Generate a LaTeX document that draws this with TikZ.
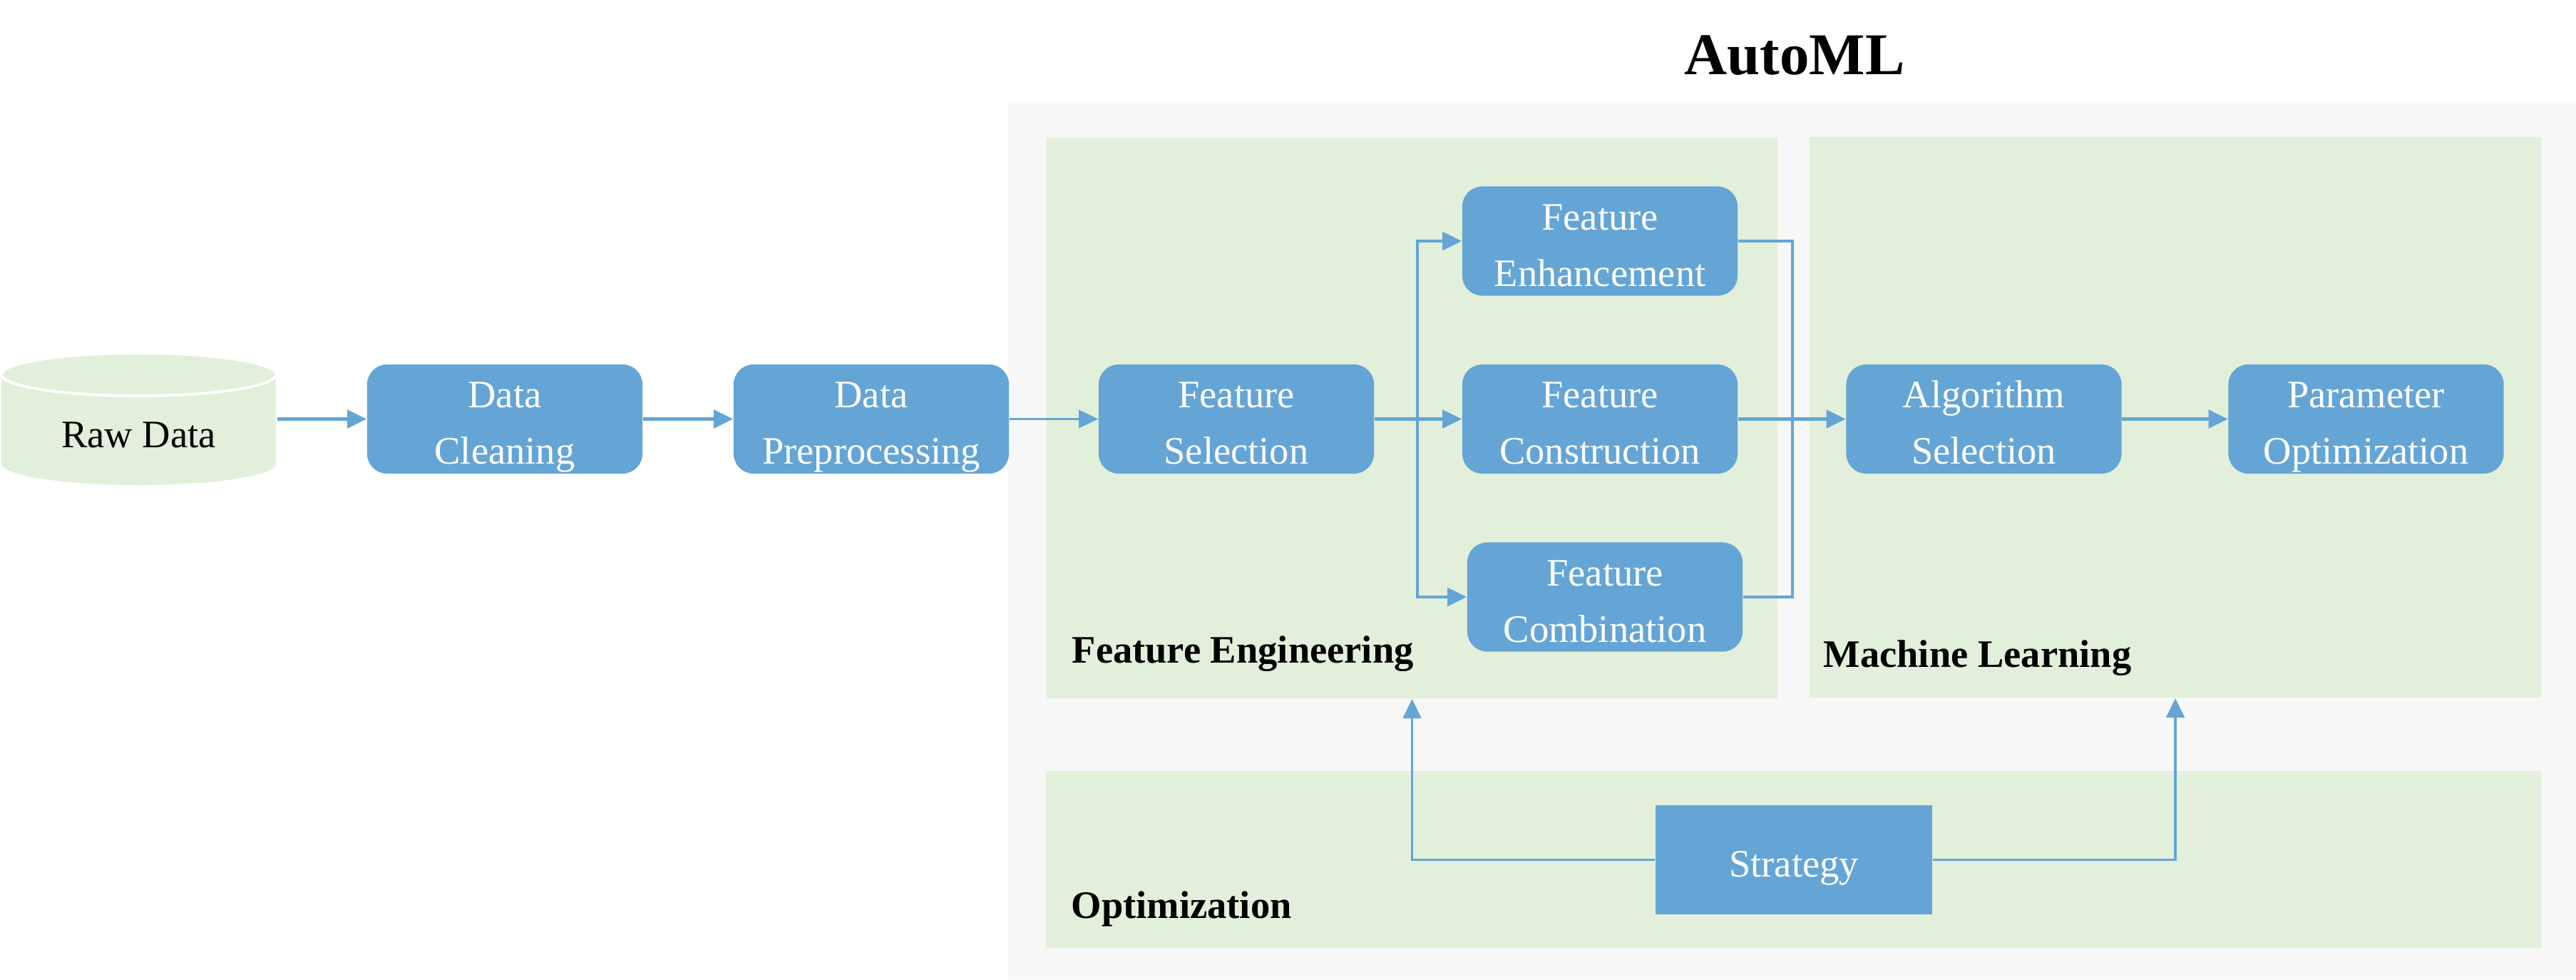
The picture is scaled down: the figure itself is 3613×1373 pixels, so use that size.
\documentclass[tikz,border=0pt]{standalone}
\usepackage{fontspec}
\setmainfont{Liberation Serif}
\usetikzlibrary{arrows.meta}
\definecolor{boxblue}{RGB}{100,165,213}
\definecolor{panelgreen}{RGB}{226,239,218}
\definecolor{framegray}{RGB}{247,247,247}
% strut that keeps every box line the same height and depth
\newcommand\boxstrut{\rule[-3.7pt]{0pt}{20.8pt}}

\begin{document}
\begin{tikzpicture}[x=0.01cm,y=-0.01cm,
  stepbox/.style={fill=boxblue, rounded corners=0.28cm, minimum width=3.86cm,
    minimum height=1.53cm, inner sep=0pt, text=white, align=center,
    font=\fontsize{15.5pt}{22.5pt}\selectfont},
  plainbox/.style={stepbox, rounded corners=0pt, minimum width=3.88cm},
  panel/.style={fill=panelgreen, inner sep=0pt},
  tag/.style={anchor=base west, inner sep=0pt, font=\fontsize{15.5pt}{18pt}\selectfont\bfseries},
  tip/.style={-{Triangle[length=7.7pt,width=7.2pt]}},
  mainflow/.style={draw=boxblue, line width=1.4pt},
  featflow/.style={draw=boxblue, line width=1.25pt},
  thinflow/.style={draw=boxblue, line width=0.6pt},
  stratflow/.style={draw=boxblue, line width=1.1pt}
]
\useasboundingbox (0,0) rectangle (3613,1373);

% AutoML frame and its three panels
\node[fill=framegray, inner sep=0pt, minimum width=21.98cm, minimum height=12.30cm] (automl) at (2514,758) {};
\node[anchor=base, inner sep=0pt, font=\fontsize{23.6pt}{28pt}\selectfont\bfseries] (title) at (2517,105) {AutoML};
\node[panel, minimum width=10.25cm, minimum height=7.86cm] (fe) at (1980.5,586) {};
\node[panel, minimum width=10.26cm, minimum height=7.86cm] (ml) at (3051,585) {};
\node[panel, minimum width=20.95cm, minimum height=2.48cm] (opt) at (2515.5,1205) {};
\node[tag] (felabel) at (1503,929) {Feature Engineering};
\node[tag] (mllabel) at (2557,935) {Machine Learning};
\node[tag] (optlabel) at (1502,1287) {Optimization};

% raw data store
\fill[panelgreen] (2,525) -- (2,650) arc[start angle=180, end angle=360, x radius=1.925cm, y radius=0.3cm] -- (387,525) -- cycle;
\draw[white, line width=1.1pt, fill=panelgreen] (194.5,525) ellipse [x radius=1.925cm, y radius=0.3cm];
\node[anchor=base, inner sep=0pt, font=\fontsize{15.5pt}{18pt}\selectfont] (raw) at (194.5,627) {Raw Data};
\coordinate (rawout) at (389,587.5);

% process steps
\node[stepbox] (clean) at (708,587.5) {\boxstrut Data\\\boxstrut Cleaning};
\node[stepbox] (prep) at (1222,587.5) {\boxstrut Data\\\boxstrut Preprocessing};
\node[stepbox] (fsel) at (1734,587.5) {\boxstrut Feature\\\boxstrut Selection};
\node[stepbox] (fenh) at (2244,338) {\boxstrut Feature\\\boxstrut Enhancement};
\node[stepbox] (fcon) at (2244,587.5) {\boxstrut Feature\\\boxstrut Construction};
\node[stepbox] (fcom) at (2251,837) {\boxstrut Feature\\\boxstrut Combination};
\node[stepbox] (alg) at (2782.5,587.5) {\boxstrut Algorithm\\\boxstrut Selection};
\node[stepbox] (par) at (3318.5,587.5) {\boxstrut Parameter\\\boxstrut Optimization};
\node[plainbox] (strat) at (2516,1205.5) {\boxstrut Strategy};

% connectors
\draw[mainflow, tip] (rawout) -- (clean.west);
\draw[mainflow, tip] (clean.east) -- (prep.west);
\draw[thinflow, tip] (prep.east) -- (fsel.west);

\coordinate (split) at (1988,587.5);
\coordinate (join) at (2514,587.5);
\draw[featflow, tip] (fsel.east) -- (fcon.west);
\draw[featflow, tip] (split) |- (fenh.west);
\draw[featflow, tip] (split) |- (fcom.west);
\draw[featflow] (fenh.east) -| (join);
\draw[featflow] (fcom.east) -| (join);
\draw[featflow, tip] (fcon.east) -- (alg.west);
\draw[mainflow, tip] (alg.east) -- (par.west);

\draw[stratflow, tip] (strat.west) -| (fe.south);
\draw[stratflow, tip] (strat.east) -| (ml.south);
\end{tikzpicture}
\end{document}
